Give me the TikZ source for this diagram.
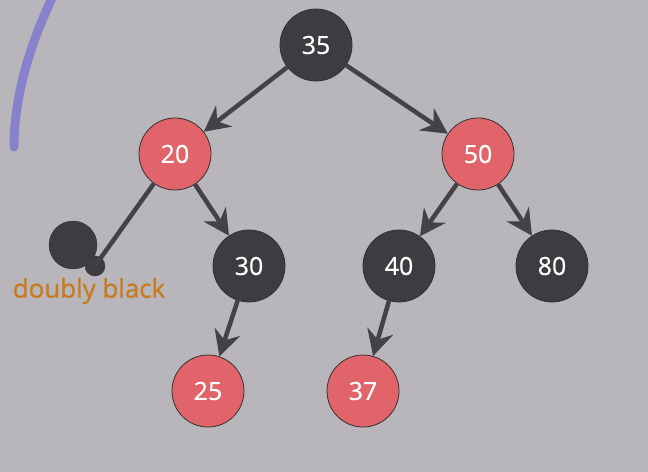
\documentclass[tikz,border=0pt]{standalone}
\usepackage{fontspec}
\setmainfont{Open Sans}
\newfontfamily\keyfont{Open Sans}[FakeBold=0.7]
\usetikzlibrary{arrows.meta}
\usetikzlibrary{positioning}
\definecolor{bg}{RGB}{184,182,186}
\definecolor{rbred}{RGB}{224,100,106}
\definecolor{rbblack}{RGB}{62,60,64}
\definecolor{edgegray}{RGB}{68,66,70}
\definecolor{arcpurple}{RGB}{136,129,204}
\definecolor{dborange}{RGB}{200,122,30}

\begin{document}
\begin{tikzpicture}[x=1bp, y=-1bp,
    blk/.style = {circle, draw=black!80, line width=0.8bp, fill=rbblack, text=white,
                  minimum size=72bp, inner sep=0pt, font=\keyfont\fontsize{25}{25}\selectfont},
    red/.style = {blk, fill=rbred},
    tree/.style = {color=edgegray, line width=4.5bp, -{Stealth[length=26bp, width=27bp, inset=9bp, line width=1bp]}}]
        \fill[bg] (0, 0) rectangle (648, 472);
        \useasboundingbox (0, 0) rectangle (648, 472);
        \draw[arcpurple, line width=9bp, line cap=round] (53, -4) .. controls (25, 55) and (14, 105) .. (14, 147);

        \node[blk] (n35) at (316, 45)  {35};
        \node[red] (n20) at (175, 154) {20};
        \node[red] (n50) at (478, 154) {50};
        \node[blk] (n30) at (249, 266) {30};
        \node[blk] (n40) at (399, 266) {40};
        \node[blk] (n80) at (552, 266) {80};
        \node[red] (n25) at (208, 391) {25};
        \node[red] (n37) at (363, 391) {37};
        \node[circle, fill=rbblack, draw=black!80, minimum size=48bp, inner sep=0pt] (big) at (73, 245) {};
        \node[circle, fill=rbblack, draw=black!80, minimum size=20bp, inner sep=0pt] (dot) at (95, 266) {};
        \node[text=dborange, font=\keyfont\fontsize{26}{26}\selectfont] (db) at (89, 291) {doubly black};

        \draw[tree] (n35) edge (n20);
        \draw[tree] (n35) edge (n50);
        \draw[tree] (n20) edge (n30);
        \draw[tree] (n50) edge (n40);
        \draw[tree] (n50) edge (n80);
        \draw[tree] (n30) edge (n25);
        \draw[tree] (n40) edge (n37);
        \draw[color=edgegray, line width=4.5bp] (n20) -- (dot.center);
      \end{tikzpicture}
\end{document}
